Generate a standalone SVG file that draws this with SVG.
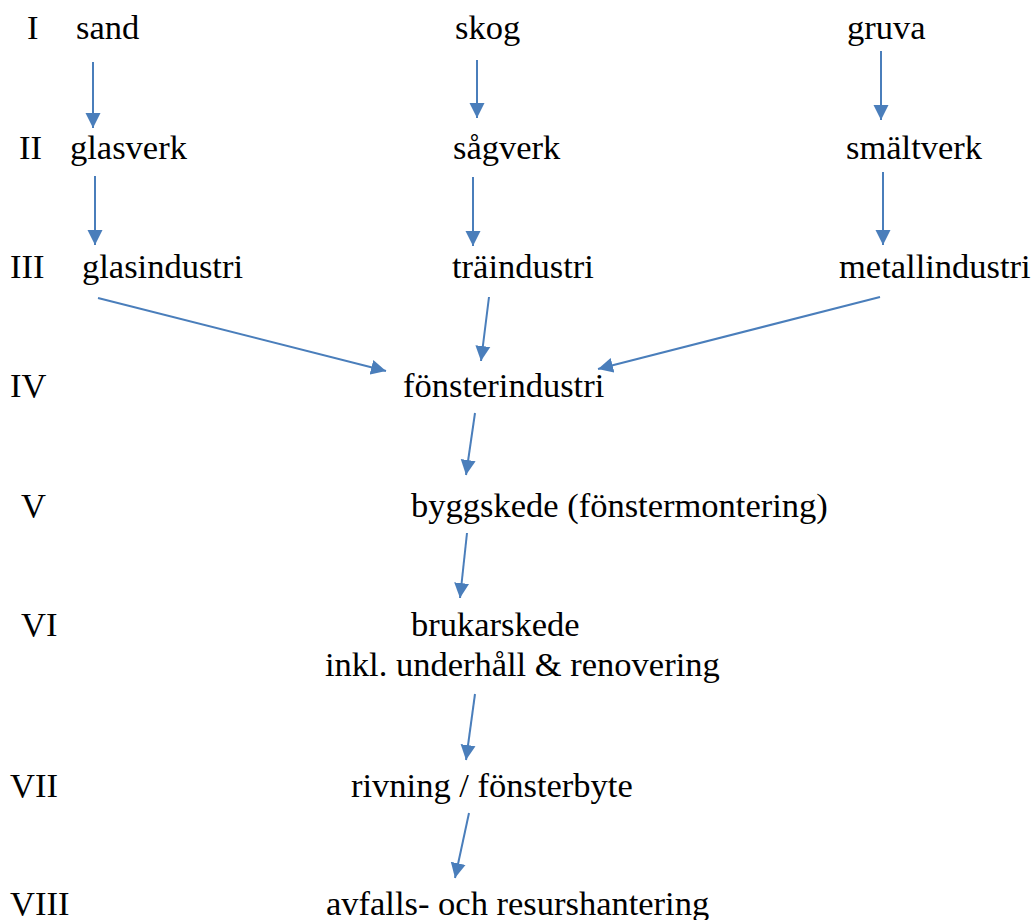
<svg xmlns="http://www.w3.org/2000/svg" width="1032" height="920" viewBox="0 0 1032 920">
<style>
text{font-size:34.5px;fill:#000}
.c line{stroke:#4a7ebb;stroke-width:2;marker-end:url(#ah)}
</style>
<defs>
<marker id="ah" markerUnits="userSpaceOnUse" markerWidth="16" markerHeight="16" viewBox="0 0 16 16" refX="15" refY="8" orient="auto">
<path d="M0,0.5 L15,8 L0,15.5 Z" fill="#4a7ebb"/>
</marker>
</defs>
<rect width="1032" height="920" fill="#fff"/>
<g font-family="'Liberation Serif', 'Times New Roman', serif">
<g id="levels">
<text x="27" y="39">I</text>
<text x="19" y="159">II</text>
<text x="10" y="278">III</text>
<text x="10" y="397">IV</text>
<text x="21" y="517">V</text>
<text x="21" y="636">VI</text>
<text x="10" y="797">VII</text>
<text x="10" y="915">VIII</text>
</g>
<g id="sand"><text x="76" y="39">sand</text></g>
<g id="skog"><text x="455" y="39">skog</text></g>
<g id="gruva"><text x="847" y="39">gruva</text></g>
<g id="glasverk"><text x="70" y="159">glasverk</text></g>
<g id="sagverk"><text x="453" y="159">sågverk</text></g>
<g id="smaltverk"><text x="846" y="159">smältverk</text></g>
<g id="glasindustri"><text x="82" y="278">glasindustri</text></g>
<g id="traindustri"><text x="452" y="278">träindustri</text></g>
<g id="metallindustri"><text x="839" y="278">metallindustri</text></g>
<g id="fonsterindustri"><text x="403" y="397">fönsterindustri</text></g>
<g id="byggskede"><text x="411" y="517">byggskede (fönstermontering)</text></g>
<g id="brukarskede"><text x="411" y="636">brukarskede</text><text x="325" y="676">inkl. underhåll &amp; renovering</text></g>
<g id="rivning"><text x="351" y="797">rivning / fönsterbyte</text></g>
<g id="avfall"><text x="326" y="915">avfalls- och resurshantering</text></g>
</g>
<g class="c" id="connectors">
<line x1="93" y1="62" x2="93" y2="128"/>
<line x1="95" y1="176" x2="95" y2="245"/>
<line x1="477" y1="60" x2="477" y2="118"/>
<line x1="473" y1="177" x2="473" y2="246"/>
<line x1="881" y1="51" x2="881" y2="120"/>
<line x1="883" y1="172" x2="883" y2="245"/>
<line x1="98" y1="298" x2="386" y2="371"/>
<line x1="489" y1="297" x2="481" y2="361"/>
<line x1="880" y1="297" x2="598" y2="369"/>
<line x1="475" y1="413" x2="466" y2="475"/>
<line x1="467" y1="533" x2="460" y2="598"/>
<line x1="475" y1="694" x2="466" y2="760"/>
<line x1="469" y1="813" x2="455" y2="878"/>
</g>
</svg>
